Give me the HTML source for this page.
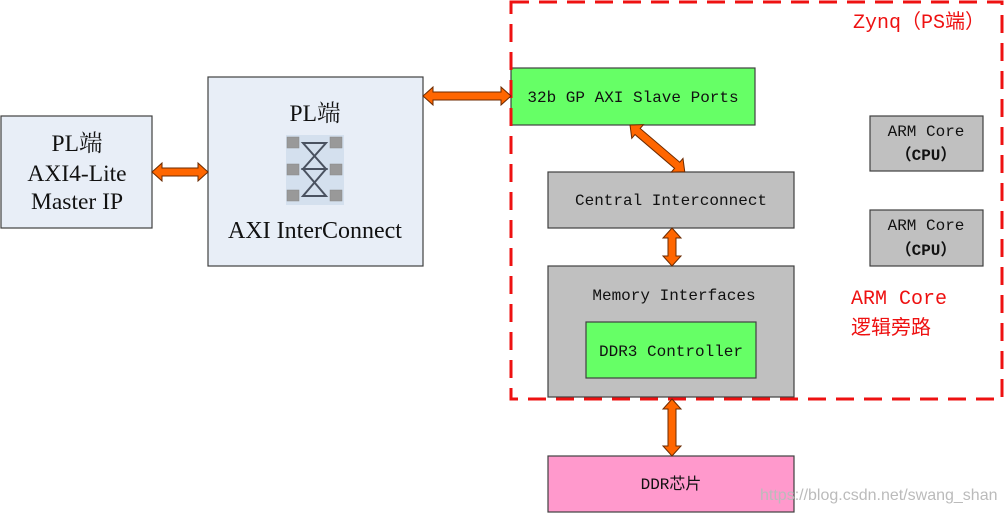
<!DOCTYPE html>
<html><head><meta charset="utf-8"><style>
html,body{margin:0;padding:0;background:#fff;width:1004px;height:513px;overflow:hidden}
svg{display:block}
.s{font-family:"Liberation Serif","Noto Serif CJK SC",serif}
.m{font-family:"Liberation Mono","Noto Sans CJK SC",monospace}
</style></head><body>
<svg width="1004" height="513" viewBox="0 0 1004 513" xmlns="http://www.w3.org/2000/svg">
<g stroke="#404040" stroke-width="1.2">
<rect x="1" y="116" width="151" height="112" fill="#e8eef7"/>
<rect x="208" y="77" width="215" height="189" fill="#e8eef7"/>
<rect x="511" y="68" width="244" height="57" fill="#66ff66"/>
<rect x="548" y="172" width="246" height="56" fill="#c0c0c0"/>
<rect x="548" y="266" width="246" height="131" fill="#c0c0c0"/>
<rect x="586" y="322" width="170" height="56" fill="#66ff66"/>
<rect x="870" y="116" width="113" height="55" fill="#c0c0c0"/>
<rect x="870" y="210" width="113" height="56" fill="#c0c0c0"/>
<rect x="548" y="456" width="246" height="56" fill="#ff99cc"/>
</g>
<rect x="511" y="2" width="491" height="397" fill="none" stroke="#ee1111" stroke-width="3" stroke-dasharray="18,10"/>
<rect x="286" y="135" width="58" height="70" fill="#d4e0ee"/>
<g fill="#999" stroke="#888" stroke-width="0.5">
<rect x="287" y="137" width="12" height="11"/><rect x="330" y="137" width="12" height="11"/>
<rect x="287" y="164" width="12" height="11"/><rect x="330" y="164" width="12" height="11"/>
<rect x="287" y="190" width="12" height="11"/><rect x="330" y="190" width="12" height="11"/>
</g>
<g fill="none" stroke="#4a5260" stroke-width="2">
<polygon points="303,143 326,143 303,169 326,169"/>
<polygon points="303,169 326,169 303,196 326,196"/>
</g>
<g fill="#ff6600" stroke="#6b2a00" stroke-width="1">
<polygon transform="translate(152,172)" points="0,0 10,-9 10,-4 46,-4 46,-9 56,0 46,9 46,4 10,4 10,9"/>
<polygon transform="translate(423,96)" points="0,0 10,-9 10,-4 78,-4 78,-9 88,0 78,9 78,4 10,4 10,9"/>
<polygon transform="translate(630,125) rotate(40.5)" points="0,0 10,-9 10,-4 62,-4 62,-9 72,0 62,9 62,4 10,4 10,9"/>
<polygon transform="translate(672,228) rotate(90)" points="0,0 10,-9 10,-4 28,-4 28,-9 38,0 28,9 28,4 10,4 10,9"/>
<polygon transform="translate(672,399) rotate(90)" points="0,0 10,-9 10,-4 47,-4 47,-9 57,0 47,9 47,4 10,4 10,9"/>
</g>
<g class="s" fill="#111" font-size="23.5" text-anchor="middle">
<text x="77" y="151">PL端</text>
<text x="77" y="181">AXI4-Lite</text>
<text x="77" y="209">Master IP</text>
<text x="315" y="121">PL端</text>
<text x="315" y="238" font-size="24">AXI InterConnect</text>
</g>
<g class="m" fill="#111" font-size="16" text-anchor="middle">
<text x="633" y="102">32b GP AXI Slave Ports</text>
<text x="671" y="205">Central Interconnect</text>
<text x="674" y="300">Memory Interfaces</text>
<text x="671" y="356">DDR3 Controller</text>
<text x="926" y="136">ARM Core</text>
<text x="926" y="160" font-weight="bold">（CPU）</text>
<text x="926" y="230">ARM Core</text>
<text x="926" y="255" font-weight="bold">（CPU）</text>
<text x="671" y="489">DDR芯片</text>
</g>
<g class="m" fill="#ee1111" font-size="20">
<text x="853" y="28">Zynq（PS端）</text>
<text x="851" y="304">ARM Core</text>
<text x="851" y="334">逻辑旁路</text>
</g>
<text x="760" y="500" font-family="Liberation Sans,sans-serif" font-size="16" fill="#bbb">https://blog.csdn.net/swang_shan</text>
</svg>
</body></html>
